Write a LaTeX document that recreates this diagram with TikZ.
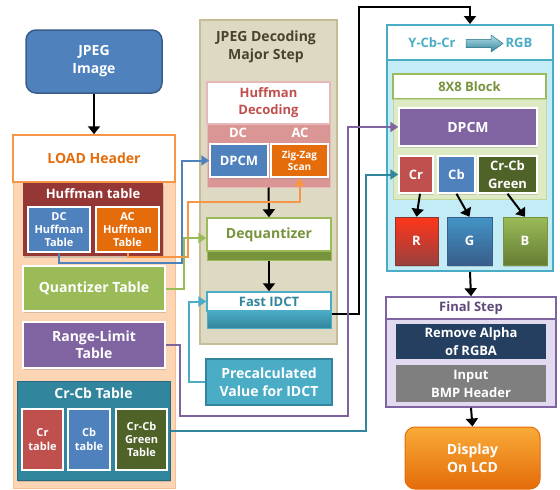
\documentclass[tikz,border=0pt]{standalone}
\usepackage{fontspec}
\setmainfont{Open Sans}
\usetikzlibrary{arrows.meta,shadows}
\definecolor{cBlue}{HTML}{4F81BD}
\definecolor{cBlueD}{HTML}{385D8A}
\definecolor{cPeach}{HTML}{FCD5B4}
\definecolor{cPeachD}{HTML}{F9BF8F}
\definecolor{cOrange}{HTML}{F79646}
\definecolor{cOrangeT}{HTML}{E46C0A}
\definecolor{cHuffRed}{HTML}{953735}
\definecolor{cGreen}{HTML}{9BBB59}
\definecolor{cGreenD}{HTML}{77933C}
\definecolor{cGreenL}{HTML}{DDEAC4}
\definecolor{cGreenM}{HTML}{C3D69B}
\definecolor{cPurple}{HTML}{8064A2}
\definecolor{cPurpleD}{HTML}{5F497A}
\definecolor{cTeal}{HTML}{4BACC6}
\definecolor{cTealD}{HTML}{31859C}
\definecolor{cRed}{HTML}{C0504D}
\definecolor{cOlive}{HTML}{4F6228}
\definecolor{cBeige}{HTML}{DDD9C3}
\definecolor{cBeigeD}{HTML}{C4BD97}
\definecolor{cTitle}{HTML}{494429}
\definecolor{cPink}{HTML}{E6B9B8}
\definecolor{cPinkD}{HTML}{D99694}
\definecolor{cCyanL}{HTML}{C4ECF6}
\definecolor{cLav}{HTML}{E2DAEE}
\definecolor{cNavy}{HTML}{243F60}
\definecolor{cGray}{HTML}{7F7F7F}
\newcommand\fs[2]{\fontsize{#1}{#2}\selectfont\bfseries}
\begin{document}
\begin{tikzpicture}[x=1pt,y=-1pt,
  bx/.style={rectangle, inner sep=0pt, align=center, text=white},
  wb/.style={draw=white, line width=1.5pt},
  shd/.style={drop shadow={shadow xshift=1pt,shadow yshift=-1.5pt,opacity=0.3}},
  carrow/.style={line width=2pt, -{Triangle[length=8pt,width=10pt]}},
  barrow/.style={line width=2pt, black, -{Triangle[length=8pt,width=12pt]}}]
\useasboundingbox (0,0) rectangle (560,490);
\fill[white] (0,0) rectangle (560,490);

% ---------- left column ----------
\node[bx, fill=cBlue, draw=cBlueD, line width=1.5pt, rounded corners=10pt,
  minimum width=136pt, minimum height=63pt, font=\fs{14}{18}] (jpeg) at (94,61.5) {JPEG\\Image};
\node[bx, fill=cPeach, draw=cPeachD, line width=1pt, minimum width=162pt, minimum height=306pt] (loadp) at (94,335) {};
\node[bx, fill=white, draw=cOrange, line width=1.5pt, minimum width=162pt, minimum height=47pt,
  text=cOrangeT, font=\fs{14}{18}] (load) at (94,158.5) {LOAD Header};
\node[bx, fill=cHuffRed, minimum width=140pt, minimum height=73pt, shd] (hufft) at (93,219.5) {};
\node[text=white, font=\fs{13}{16}] (hufftt) at (93,194) {Huffman table};
\node[bx, wb, fill=cBlue, minimum width=62pt, minimum height=45pt, font=\fs{11}{13}] (dchuff) at (59,229.5) {DC\\Huffman\\Table};
\node[bx, wb, fill=cOrangeT, minimum width=63pt, minimum height=45pt, font=\fs{11}{13}] (achuff) at (127.5,229.5) {AC\\Huffman\\Table};
\node[bx, wb, fill=cGreen, shd, minimum width=142pt, minimum height=45pt, font=\fs{14}{18}] (quant) at (94,288.5) {Quantizer Table};
\node[bx, wb, fill=cPurple, shd, minimum width=142pt, minimum height=46pt, font=\fs{14}{17}] (range) at (94,345) {Range-Limit\\Table};
\node[bx, fill=cTealD, draw=cTealD!80!black, line width=1pt, shd, minimum width=153pt, minimum height=99pt] (crcb) at (93.5,430.5) {};
\node[text=white, font=\fs{14}{18}] (crcbt) at (93.5,393) {Cr-Cb Table};
\node[bx, wb, fill=cRed, minimum width=41pt, minimum height=61pt, font=\fs{11}{14}] (crt) at (42.5,439.5) {Cr\\table};
\node[bx, wb, fill=cBlue, minimum width=42pt, minimum height=61pt, font=\fs{11}{14}] (cbt) at (89,439.5) {Cb\\table};
\node[bx, wb, fill=cOlive, minimum width=51pt, minimum height=61pt, font=\fs{11}{13}] (cgt) at (141.5,439.5) {Cr-Cb\\Green\\Table};

% ---------- middle column ----------
\node[bx, fill=cBeige, draw=cBeigeD, line width=2pt, minimum width=137pt, minimum height=324pt] (majp) at (268.5,182) {};
\node[text=cTitle, align=center, font=\fs{14}{18}] (majt) at (266,47) {JPEG Decoding\\Major Step};
\node[bx, fill=white, draw=cPink, line width=1.5pt, minimum width=123pt, minimum height=42pt,
  text=cRed, font=\fs{13}{17}] (hdh) at (268.5,103) {Huffman\\Decoding};
\node[bx, fill=cPinkD, draw=cPink, line width=1pt, minimum width=123pt, minimum height=63pt] (hband) at (268.5,155.5) {};
\node[text=white, font=\fs{13}{16}] (dcl) at (238,133) {DC};
\node[text=white, font=\fs{13}{16}] (acl) at (300,133) {AC};
\node[bx, wb, fill=cBlue, shd, minimum width=58pt, minimum height=33pt, font=\fs{13}{16}] (dpcm1) at (239,160.5) {DPCM};
\node[bx, wb, fill=cOrangeT, shd, minimum width=57pt, minimum height=33pt, font=\fs{10}{12}] (zig) at (299.5,160.5) {Zig-Zag\\Scan};
\node[bx, fill=white, draw=cGreen, line width=1.5pt, minimum width=124pt, minimum height=33pt,
  text=cGreenD, font=\fs{14}{18}] (deq) at (269,234.5) {Dequantizer};
\node[bx, fill=cGreenD, draw=cGreen, line width=1pt, minimum width=124pt, minimum height=9pt] (deqband) at (269,255.5) {};
\node[bx, fill=white, draw=cTeal, line width=1.5pt, minimum width=124pt, minimum height=19pt,
  text=cTealD, font=\fs{13}{16}] (fidct) at (269,301.5) {Fast IDCT};
\node[bx, top color=cTeal, bottom color=cTealD, draw=cTeal, line width=1pt, minimum width=124pt, minimum height=17pt] (fidctband) at (269,319.5) {};
\node[bx, fill=cTeal, draw=cTealD, line width=1.5pt, minimum width=126pt, minimum height=46pt,
  font=\fs{14}{18}] (precalc) at (269,382) {Precalculated\\Value for IDCT};

% ---------- right column ----------
\node[bx, fill=cCyanL, draw=cTeal, line width=2pt, minimum width=166pt, minimum height=211pt] (yccp) at (470,165.5) {};
\node[bx, fill=white, draw=cTeal, line width=2pt, minimum width=166pt, minimum height=35pt] (ycc) at (470,42.5) {};
\node[text=cTeal, font=\fs{13}{16}] (yccl) at (432,43) {Y-Cb-Cr};
\node[text=cTeal, font=\fs{13}{16}] (rgbl) at (519,43) {RGB};
\fill[top color=cTeal!40, bottom color=cTealD, draw=cTealD, line width=0.5pt]
  (466,39.5) -- (491,39.5) -- (491,35) -- (503,43.5) -- (491,52) -- (491,47.5) -- (466,47.5) -- cycle;
\node[bx, fill=white, draw=cGreen, line width=1.5pt, minimum width=153pt, minimum height=25pt,
  text=cGreenD, font=\fs{13}{16}] (blkh) at (469.5,86.5) {8X8 Block};
\node[bx, fill=cGreenL, draw=cGreenM, line width=1pt, minimum width=153pt, minimum height=100pt] (blkp) at (469.5,149) {};
\node[bx, wb, fill=cPurple, shd, minimum width=138pt, minimum height=38pt, font=\fs{14}{18}] (dpcm2) at (468,127) {DPCM};
\node[bx, wb, fill=cRed, shd, minimum width=34pt, minimum height=37pt, font=\fs{13}{16}] (cr2) at (416,174.5) {Cr};
\node[bx, wb, fill=cBlue, shd, minimum width=37pt, minimum height=37pt, font=\fs{13}{16}] (cb2) at (456.5,174.5) {Cb};
\node[bx, wb, fill=cOlive, shd, minimum width=59pt, minimum height=37pt, font=\fs{13}{18}] (cg2) at (507.5,174.5) {Cr-Cb\\Green};
\node[bx, top color=red!75!orange!90, bottom color=cRed!80!black, draw=cRed!70!black, line width=0.5pt, shd,
  minimum width=43pt, minimum height=48pt, font=\fs{13}{16}] (rr) at (416.5,241) {R};
\node[bx, top color=cBlue!85!cyan, bottom color=cBlueD, draw=cBlueD, line width=0.5pt, shd,
  minimum width=45pt, minimum height=48pt, font=\fs{13}{16}] (gg) at (469.5,241) {G};
\node[bx, top color=cGreen, bottom color=cGreenD!85!black, draw=cGreenD, line width=0.5pt, shd,
  minimum width=44pt, minimum height=48pt, font=\fs{13}{16}] (bb) at (525,241) {B};
\node[bx, fill=cLav, draw=cPurple, line width=1.5pt, minimum width=170pt, minimum height=88pt] (finalp) at (471,363) {};
\node[bx, fill=white, draw=cPurple, line width=1.5pt, minimum width=170pt, minimum height=22pt,
  text=cPurpleD, font=\fs{13}{16}] (finalh) at (471,308) {Final Step};
\node[bx, fill=cNavy, minimum width=150pt, minimum height=35pt, font=\fs{13}{18}] (remove) at (471,341.5) {Remove Alpha\\of RGBA};
\node[bx, fill=cGray, minimum width=150pt, minimum height=37pt, font=\fs{13}{18}] (inbmp) at (471,383.5) {Input\\BMP Header};
\node[bx, top color=cOrange!80!yellow, bottom color=cOrangeT, draw=cOrangeT, line width=1pt, rounded corners=10pt,
  minimum width=135pt, minimum height=62pt, font=\fs{14}{18}] (disp) at (472.5,458) {Display\\On LCD};

% ---------- black arrows ----------
\draw[barrow] (jpeg.south) -- (load.north);
\draw[barrow] (hband.south) -- (deq.north);
\draw[barrow] (deqband.south) -- (fidct.north);
\draw[barrow] ([xshift=4pt]cr2.south) -- (rr.north);
\draw[barrow] (cb2.south) -- (gg.north);
\draw[barrow] (cg2.south) -- (bb.north);
\draw[barrow] (yccp.south) -- (finalh.north);
\draw[barrow] (finalp.south) -- (disp.north);
\coordinate (blk) at (359,7);
\draw[barrow] ([yshift=6pt]fidctband.east) -| (blk) -| (ycc.north);

% ---------- coloured connectors ----------
\coordinate (ba) at (182,263);
\draw[carrow, cBlue] (dchuff.south) |- (ba) |- (dpcm1.west);
\coordinate (oa) at (188,257);
\coordinate (ob) at (299.5,202);
\draw[carrow, cOrange] (achuff.south) |- (oa) |- (ob) -- (zig.south);
\coordinate (ga) at (184,238);
\draw[carrow, cGreen] (quant.east) -| (ga) -- ([yshift=-3.5pt]deq.west);
\coordinate (la) at (189,301.5);
\draw[carrow, cTeal] (precalc.west) -| (la) -- (fidct.west);
\coordinate (pa) at (180,416);
\coordinate (pb) at (348,127);
\draw[carrow, cPurple] (range.east) -| (pa) -| (pb) -- (dpcm2.west);
\coordinate (ta) at (366,174.5);
\draw[carrow, cTealD] (crcb.east) -| (ta) -- (cr2.west);
\end{tikzpicture}
\end{document}
